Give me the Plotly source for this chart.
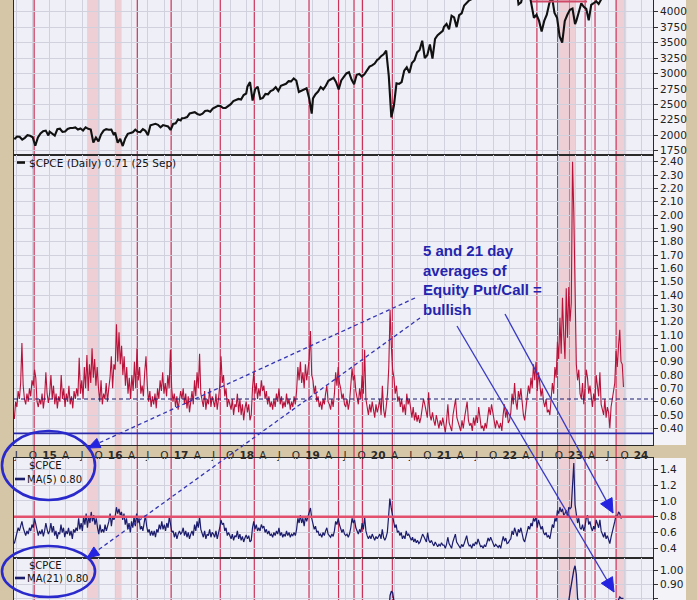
import plotly.graph_objects as go
import pandas as pd

W, H = 697, 600

# ---------------- data ----------------
year_spans = [
    ("2014-06-20", "2014-12-26"),
    ("2015-01-02", "2015-12-25"),
    ("2016-01-01", "2016-12-30"),
    ("2017-01-06", "2017-12-29"),
    ("2018-01-05", "2018-12-28"),
    ("2019-01-04", "2019-12-27"),
    ("2020-01-03", "2020-12-25"),
    ("2021-01-01", "2021-12-31"),
    ("2022-01-07", "2022-12-30"),
    ("2023-01-06", "2023-09-25"),
]

# S&P 500 (approx. bi-weekly)
spx_2014 = [1935, 1978, 1975, 1930, 1958, 2000, 1990, 1968, 1830, 1965, 2030, 2065, 2075, 1995]
spx_2015 = [2058, 2019, 1995, 2097, 2105, 2053, 2061, 2102, 2117, 2116, 2126, 2092, 2110, 2077, 2127, 2104,
            2091, 1880, 1961, 1900, 2014, 2075, 2099, 2089, 2091, 2005]
spx_2016 = [2044, 1880, 1940, 1825, 1948, 2022, 2035, 2047, 2091, 2057, 2052, 2099, 2071, 2000, 2161, 2173,
            2184, 2169, 2128, 2164, 2153, 2141, 2085, 2182, 2192, 2258, 2239]
spx_2017 = [2275, 2280, 2295, 2351, 2367, 2372, 2344, 2329, 2349, 2391, 2399, 2381, 2433, 2454, 2477, 2472,
            2441, 2443, 2477, 2502, 2553, 2575, 2588, 2579, 2651, 2675]
spx_2018 = [2786, 2860, 2560, 2747, 2786, 2588, 2604, 2670, 2663, 2713, 2735, 2779, 2718, 2801, 2819, 2833,
            2875, 2872, 2920, 2885, 2700, 2723, 2736, 2760, 2600, 2350]
spx_2019 = [2596, 2665, 2708, 2780, 2743, 2800, 2880, 2905, 2930, 2860, 2740, 2887, 2942, 3000, 3020, 2900,
            2825, 2979, 2992, 2950, 2986, 3060, 3110, 3130, 3160, 3220]
spx_2020 = [3230, 3280, 3310, 3370, 2960, 2290, 2480, 2840, 2830, 2860, 3044, 3100, 3009, 3170, 3216, 3340,
            3380, 3530, 3250, 3300, 3470, 3240, 3560, 3620, 3650, 3690]
spx_2021 = [3756, 3801, 3714, 3935, 3906, 3750, 3943, 3974, 4100, 4150, 4185, 4204, 4247, 4352, 4395, 4437,
            4509, 4535, 4432, 4391, 4545, 4698, 4594, 4712, 4620, 4680, 4766]
spx_2022 = [4600, 4400, 4450, 4120, 4150, 4300, 4500, 4350, 4130, 3900, 3950, 3850, 3680, 3850, 3950, 4140,
            4250, 3980, 3900, 3600, 3500, 3850, 3950, 4030, 4050, 3800]
spx_2023 = [3850, 3990, 4136, 4079, 4045, 3860, 4109, 4137, 4169, 4124, 4205, 4298, 4348, 4398, 4536, 4478,
            4369, 4515, 4450, 4337]

# $CPCE daily equity put/call ratio (sampled weekly)
cpce_2014 = [0.47, 0.60, 0.56, 0.68, 0.62, 0.74, 1.04, 0.72, 0.62, 0.58, 0.66, 0.60, 0.70, 0.64, 0.76, 0.72,
             0.84, 0.78, 0.60, 0.56, 0.62, 0.58, 0.66, 0.55, 0.63, 0.82, 0.66, 0.59]
cpce_2015 = [0.66, 0.80, 0.62, 0.72, 0.58, 0.66, 0.55, 0.64, 0.60, 0.80, 0.62, 0.70, 0.56, 0.66, 0.60, 0.72,
             0.58, 0.64, 0.55, 0.68, 0.62, 0.70, 0.64, 0.93, 0.66, 0.76, 0.62, 0.86, 0.70, 0.95, 0.68, 0.88,
             0.74, 1.00, 0.78, 0.92, 0.72, 0.86, 0.70, 0.60, 0.76, 0.58, 0.66, 0.62, 0.74, 0.60, 0.70, 0.78,
             0.94, 0.70, 0.88]
cpce_2016 = [0.84, 1.18, 0.90, 1.12, 0.88, 1.02, 0.80, 0.94, 0.72, 0.86, 0.66, 0.78, 0.62, 0.80, 0.68, 0.90,
             0.70, 1.00, 0.76, 0.86, 0.66, 0.72, 0.64, 0.82, 0.94, 0.72, 0.60, 0.68, 0.56, 0.64, 0.58, 0.66,
             0.55, 0.70, 0.62, 0.76, 0.68, 0.82, 0.66, 0.74, 0.64, 0.80, 0.70, 0.99, 0.70, 0.60, 0.66, 0.56,
             0.64, 0.54, 0.60, 0.68]
cpce_2017 = [0.62, 0.70, 0.58, 0.66, 0.55, 0.64, 0.52, 0.60, 0.68, 0.58, 0.76, 0.64, 0.82, 0.70, 0.96, 0.66,
             0.60, 0.56, 0.68, 0.54, 0.62, 0.58, 0.70, 0.56, 0.64, 0.60, 0.56, 0.66, 0.54, 0.62, 0.72, 0.94,
             0.74, 0.80, 0.64, 0.70, 0.56, 0.62, 0.58, 0.54, 0.62, 0.50, 0.58, 0.56, 0.66, 0.52, 0.62, 0.50,
             0.58, 0.46, 0.55, 0.60]
cpce_2018 = [0.52, 0.58, 0.46, 0.50, 0.70, 0.82, 0.66, 0.74, 0.62, 0.70, 0.64, 0.76, 0.68, 0.72, 0.62, 0.68,
             0.58, 0.64, 0.56, 0.60, 0.54, 0.62, 0.56, 0.66, 0.60, 0.70, 0.58, 0.64, 0.55, 0.60, 0.56, 0.66,
             0.58, 0.62, 0.54, 0.60, 0.56, 0.64, 0.58, 0.68, 0.86, 0.76, 0.90, 0.74, 0.82, 0.70, 0.88, 0.76,
             0.84, 0.92, 1.13, 0.80]
cpce_2019 = [0.76, 0.66, 0.72, 0.60, 0.64, 0.56, 0.60, 0.54, 0.62, 0.58, 0.66, 0.72, 0.60, 0.58, 0.54, 0.62,
             0.56, 0.66, 0.82, 0.72, 0.86, 0.74, 0.70, 0.62, 0.66, 0.58, 0.56, 0.62, 0.54, 0.60, 0.72, 0.85,
             0.76, 0.80, 0.68, 0.64, 0.58, 0.70, 0.62, 0.80, 0.66, 0.99, 0.62, 0.56, 0.50, 0.58, 0.52, 0.60,
             0.54, 0.48, 0.58, 0.52]
cpce_2020 = [0.56, 0.62, 0.50, 0.72, 0.54, 0.48, 0.56, 0.66, 0.86, 1.29, 1.02, 0.84, 0.78, 0.66, 0.72, 0.60,
             0.64, 0.56, 0.62, 0.52, 0.58, 0.50, 0.66, 0.58, 0.62, 0.54, 0.48, 0.56, 0.46, 0.52, 0.45, 0.50,
             0.44, 0.48, 0.56, 0.62, 0.58, 0.52, 0.48, 0.67, 0.50, 0.46, 0.52, 0.46, 0.42, 0.50, 0.44, 0.40,
             0.46, 0.42, 0.48]
cpce_2021 = [0.42, 0.37, 0.46, 0.58, 0.44, 0.40, 0.38, 0.50, 0.56, 0.62, 0.48, 0.44, 0.42, 0.38, 0.46, 0.40,
             0.48, 0.56, 0.60, 0.46, 0.42, 0.44, 0.38, 0.48, 0.42, 0.50, 0.44, 0.56, 0.46, 0.40, 0.42, 0.38,
             0.44, 0.40, 0.48, 0.56, 0.50, 0.58, 0.52, 0.44, 0.40, 0.46, 0.42, 0.40, 0.44, 0.38, 0.50, 0.58,
             0.48, 0.54, 0.44, 0.46]
cpce_2022 = [0.52, 0.66, 0.58, 0.74, 0.60, 0.54, 0.68, 0.62, 0.70, 0.56, 0.50, 0.46, 0.56, 0.62, 0.72, 0.66,
             0.78, 0.70, 0.88, 0.76, 0.90, 0.68, 0.82, 0.74, 0.64, 0.70, 0.60, 0.56, 0.62, 0.52, 0.54, 0.50,
             0.62, 0.74, 0.66, 0.86, 0.78, 1.05, 0.92, 1.23, 0.96, 1.38, 1.10, 0.92, 1.45, 1.08, 1.46, 1.20,
             1.34, 2.40, 2.02, 1.30]
cpce_2023 = [0.88, 0.76, 0.84, 0.66, 0.62, 0.74, 0.58, 0.70, 0.84, 0.78, 0.66, 0.72, 0.62, 0.56, 0.66, 0.60,
             0.80, 0.70, 0.64, 0.82, 0.58, 0.54, 0.50, 0.62, 0.48, 0.56, 0.52, 0.40, 0.56, 0.62, 0.70, 0.74,
             0.98, 0.86, 1.02, 1.14, 0.90, 0.88, 0.71]

# MA(5) of $CPCE (sampled weekly)
ma5_2014 = [0.46, 0.54, 0.60, 0.66, 0.62, 0.68, 0.74, 0.66, 0.60, 0.56, 0.62, 0.58, 0.66, 0.62, 0.70, 0.66,
            0.78, 0.70, 0.60, 0.56, 0.62, 0.58, 0.64, 0.55, 0.62, 0.72, 0.64, 0.58]
ma5_2015 = [0.62, 0.72, 0.60, 0.68, 0.56, 0.62, 0.52, 0.60, 0.58, 0.70, 0.60, 0.66, 0.54, 0.62, 0.58, 0.66,
            0.56, 0.62, 0.52, 0.64, 0.60, 0.66, 0.62, 0.78, 0.64, 0.72, 0.62, 0.80, 0.70, 0.84, 0.66, 0.80,
            0.72, 0.86, 0.74, 0.82, 0.70, 0.78, 0.66, 0.58, 0.70, 0.60, 0.64, 0.60, 0.70, 0.62, 0.68, 0.74,
            0.84, 0.68, 0.80, 0.76]
ma5_2016 = [0.80, 0.92, 0.84, 0.90, 0.82, 0.86, 0.76, 0.84, 0.70, 0.78, 0.64, 0.72, 0.60, 0.74, 0.66, 0.80,
            0.68, 0.84, 0.72, 0.78, 0.64, 0.68, 0.62, 0.74, 0.82, 0.68, 0.60, 0.64, 0.56, 0.62, 0.56, 0.62,
            0.54, 0.64, 0.60, 0.70, 0.64, 0.74, 0.64, 0.70, 0.62, 0.72, 0.66, 0.80, 0.66, 0.60, 0.62, 0.54,
            0.60, 0.52, 0.58, 0.62, 0.58]
ma5_2017 = [0.60, 0.66, 0.56, 0.62, 0.54, 0.60, 0.52, 0.58, 0.62, 0.56, 0.70, 0.62, 0.74, 0.66, 0.80, 0.64,
            0.58, 0.54, 0.62, 0.52, 0.58, 0.56, 0.64, 0.54, 0.60, 0.58, 0.54, 0.62, 0.52, 0.58, 0.66, 0.76,
            0.70, 0.72, 0.62, 0.66, 0.56, 0.60, 0.56, 0.52, 0.58, 0.50, 0.56, 0.54, 0.62, 0.52, 0.58, 0.50,
            0.55, 0.48, 0.53, 0.57]
ma5_2018 = [0.52, 0.56, 0.48, 0.50, 0.66, 0.74, 0.64, 0.70, 0.62, 0.66, 0.62, 0.70, 0.66, 0.68, 0.60, 0.64,
            0.58, 0.62, 0.56, 0.58, 0.54, 0.60, 0.56, 0.62, 0.58, 0.66, 0.56, 0.60, 0.54, 0.58, 0.55, 0.62,
            0.56, 0.60, 0.54, 0.58, 0.56, 0.60, 0.56, 0.64, 0.78, 0.72, 0.82, 0.72, 0.78, 0.68, 0.80, 0.74,
            0.80, 0.86, 0.91, 0.78]
ma5_2019 = [0.72, 0.64, 0.68, 0.60, 0.62, 0.56, 0.58, 0.54, 0.60, 0.56, 0.62, 0.66, 0.58, 0.56, 0.54, 0.58,
            0.55, 0.62, 0.74, 0.70, 0.78, 0.70, 0.66, 0.60, 0.64, 0.58, 0.56, 0.58, 0.54, 0.58, 0.66, 0.78,
            0.72, 0.76, 0.66, 0.62, 0.58, 0.64, 0.60, 0.72, 0.64, 0.80, 0.62, 0.56, 0.52, 0.56, 0.52, 0.58,
            0.54, 0.50, 0.55, 0.52]
ma5_2020 = [0.55, 0.58, 0.52, 0.64, 0.54, 0.50, 0.54, 0.60, 0.80, 1.03, 0.92, 0.80, 0.74, 0.66, 0.70, 0.60,
            0.62, 0.56, 0.60, 0.52, 0.56, 0.52, 0.62, 0.56, 0.58, 0.54, 0.50, 0.54, 0.48, 0.52, 0.47, 0.50,
            0.46, 0.48, 0.52, 0.58, 0.55, 0.52, 0.48, 0.60, 0.50, 0.47, 0.50, 0.46, 0.43, 0.48, 0.45, 0.42,
            0.45, 0.43, 0.47, 0.44]
ma5_2021 = [0.44, 0.40, 0.45, 0.54, 0.46, 0.42, 0.40, 0.48, 0.52, 0.58, 0.48, 0.45, 0.43, 0.40, 0.45, 0.42,
            0.46, 0.52, 0.56, 0.47, 0.43, 0.44, 0.40, 0.46, 0.43, 0.48, 0.45, 0.52, 0.46, 0.42, 0.43, 0.40,
            0.44, 0.42, 0.47, 0.53, 0.49, 0.54, 0.50, 0.45, 0.42, 0.45, 0.43, 0.41, 0.44, 0.40, 0.48, 0.55,
            0.49, 0.53, 0.46, 0.47, 0.50]
ma5_2022 = [0.52, 0.62, 0.57, 0.66, 0.60, 0.55, 0.64, 0.60, 0.66, 0.56, 0.51, 0.48, 0.55, 0.60, 0.68, 0.64,
            0.72, 0.68, 0.78, 0.74, 0.80, 0.66, 0.76, 0.70, 0.64, 0.68, 0.60, 0.57, 0.60, 0.54, 0.56, 0.52,
            0.60, 0.70, 0.66, 0.78, 0.74, 0.88, 0.84, 0.92, 0.86, 0.90, 0.82, 0.84, 0.88, 0.80, 0.92, 0.90,
            0.92, 1.25, 1.48, 0.95]
ma5_2023 = [0.84, 0.72, 0.78, 0.66, 0.64, 0.70, 0.62, 0.68, 0.78, 0.82, 0.70, 0.74, 0.66, 0.62, 0.68, 0.64,
            0.76, 0.70, 0.66, 0.76, 0.62, 0.58, 0.54, 0.60, 0.52, 0.56, 0.50, 0.46, 0.54, 0.60, 0.68, 0.74,
            0.82, 0.80, 0.86, 0.84, 0.78, 0.80, 0.80]

# MA(21) of $CPCE (monthly, weekly where it enters the visible window)
ma21_2014 = [0.55, 0.62, 0.66, 0.64, 0.68, 0.62, 0.64]
ma21_2015 = [0.66, 0.62, 0.64, 0.62, 0.60, 0.64, 0.70, 0.76, 0.76, 0.66, 0.64, 0.74]
ma21_2016 = [0.78, 0.77, 0.72, 0.70, 0.74, 0.70, 0.62, 0.60, 0.66, 0.68, 0.70, 0.58]
ma21_2017 = [0.61, 0.58, 0.64, 0.68, 0.60, 0.59, 0.58, 0.68, 0.62, 0.56, 0.57, 0.53]
ma21_2018 = [0.52, 0.68, 0.66, 0.65, 0.59, 0.60, 0.59, 0.58, 0.58, 0.74, 0.76, 0.78]
ma21_2019 = [0.68, 0.59, 0.61, 0.57, 0.70, 0.64, 0.58, 0.70, 0.63, 0.70, 0.55, 0.53]
ma21_2020 = [0.56, 0.57, 0.57, 0.58, 0.57, 0.56, 0.55, 0.58, 0.70, 0.82, 0.85, 0.84, 0.78, 0.72, 0.68, 0.65,
             0.63, 0.61, 0.60, 0.58, 0.57, 0.57, 0.58, 0.58, 0.57, 0.55, 0.53, 0.52, 0.51, 0.50, 0.49, 0.48,
             0.48, 0.49, 0.52, 0.55, 0.56, 0.55, 0.53, 0.54, 0.53, 0.52, 0.51, 0.49, 0.47, 0.46, 0.46, 0.45,
             0.44, 0.44, 0.45]
ma21_2021 = [0.46, 0.44, 0.50, 0.44, 0.48, 0.44, 0.47, 0.42, 0.50, 0.46, 0.44, 0.50]
ma21_2022 = [0.54, 0.56, 0.58, 0.60, 0.61, 0.60, 0.59, 0.60, 0.59, 0.57, 0.55, 0.53, 0.54, 0.57, 0.60, 0.63,
             0.66, 0.69, 0.72, 0.74, 0.76, 0.76, 0.75, 0.73, 0.71, 0.68, 0.66, 0.63, 0.60, 0.58, 0.57, 0.56,
             0.58, 0.61, 0.64, 0.68, 0.71, 0.74, 0.76, 0.77, 0.78, 0.77, 0.76, 0.75, 0.76, 0.77, 0.78, 0.84,
             0.90, 0.95, 1.00, 1.03]
ma21_2023 = [0.97, 0.80, 0.74, 0.72, 0.70, 0.69, 0.68, 0.70, 0.72, 0.74, 0.73, 0.71, 0.69, 0.67, 0.66, 0.67,
             0.68, 0.69, 0.67, 0.65, 0.62, 0.60, 0.58, 0.57, 0.55, 0.54, 0.53, 0.55, 0.58, 0.62, 0.66, 0.70,
             0.74, 0.77, 0.79, 0.81, 0.80, 0.80, 0.80]

# tick labels
spx_ticks = [1750, 2000, 2250, 2500, 2750, 3000, 3250, 3500, 3750, 4000]
cpce_ticks = [0.40, 0.50, 0.60, 0.70, 0.80, 0.90, 1.00, 1.10, 1.20, 1.30, 1.40, 1.50, 1.60, 1.70, 1.80,
              1.90, 2.00, 2.10, 2.20, 2.30, 2.40]
ma5_ticks = [0.4, 0.6, 0.8, 1.0, 1.2, 1.4]
ma21_ticks = [0.80, 0.90, 1.00]
quarter_ticks = ["2014-07-01", "2014-10-01",
                 "2015-01-01", "2015-04-01", "2015-07-01", "2015-10-01",
                 "2016-01-01", "2016-04-01", "2016-07-01", "2016-10-01",
                 "2017-01-01", "2017-04-01", "2017-07-01", "2017-10-01",
                 "2018-01-01", "2018-04-01", "2018-07-01", "2018-10-01",
                 "2019-01-01", "2019-04-01", "2019-07-01", "2019-10-01",
                 "2020-01-01", "2020-04-01", "2020-07-01", "2020-10-01",
                 "2021-01-01", "2021-04-01", "2021-07-01", "2021-10-01",
                 "2022-01-01", "2022-04-01", "2022-07-01", "2022-10-01",
                 "2023-01-01", "2023-04-01", "2023-07-01", "2023-10-01",
                 "2024-01-01"]
quarter_labels = ["J", "O",
                  "<b>15</b>", "A", "J", "O",
                  "<b>16</b>", "A", "J", "O",
                  "<b>17</b>", "A", "J", "O",
                  "<b>18</b>", "A", "J", "O",
                  "<b>19</b>", "A", "J", "O",
                  "<b>20</b>", "A", "J", "O",
                  "<b>21</b>", "A", "J", "O",
                  "<b>22</b>", "A", "J", "O",
                  "<b>23</b>", "A", "J", "O",
                  "<b>24</b>"]

# marked dates and levels
red_line_dates = ["2014-10-08", "2016-05-03", "2016-11-07", "2017-08-07", "2018-02-12", "2018-12-13",
                  "2019-05-26", "2019-08-20", "2019-10-06", "2020-03-20", "2022-06-01", "2022-09-24",
                  "2023-02-24", "2023-04-20", "2023-08-15"]
purple_line_date = "2022-11-29"
shade_ranges = [("2015-07-29", "2015-10-08"), ("2015-12-30", "2016-02-06"),
                ("2022-09-24", "2022-12-31"), ("2023-08-15", "2023-10-10")]
cpce_dashed_level = 0.62
cpce_floor_level = 0.362
ma5_level = 0.80


def build(segments):
    xs, ys = [], []
    for (start, end), vals in zip(year_spans, segments):
        xs += list(pd.date_range(start, end, periods=len(vals)))
        ys += list(vals)
    return xs, ys


spx_x, spx_y = build([spx_2014, spx_2015, spx_2016, spx_2017, spx_2018, spx_2019, spx_2020, spx_2021,
                      spx_2022, spx_2023])
cpce_x, cpce_y = build([cpce_2014, cpce_2015, cpce_2016, cpce_2017, cpce_2018, cpce_2019, cpce_2020,
                        cpce_2021, cpce_2022, cpce_2023])
ma5_x, ma5_y = build([ma5_2014, ma5_2015, ma5_2016, ma5_2017, ma5_2018, ma5_2019, ma5_2020, ma5_2021,
                      ma5_2022, ma5_2023])
ma21_x, ma21_y = build([ma21_2014, ma21_2015, ma21_2016, ma21_2017, ma21_2018, ma21_2019, ma21_2020,
                        ma21_2021, ma21_2022, ma21_2023])

# ---------------- styling ----------------
TAN = "#d5c6a7"
BG = "#eeeff7"
GRID = "#d0d1dd"
FONT = "DejaVu Sans"
BLUE = "#2a2acc"


def px(x):
    return x / W


def py(y):
    return 1 - y / H


fig = go.Figure()
fig.add_trace(go.Scatter(x=spx_x, y=spx_y, mode="lines", line=dict(color="#111111", width=2.1),
                         xaxis="x", yaxis="y", hoverinfo="skip"))
fig.add_trace(go.Scatter(x=cpce_x, y=cpce_y, mode="lines", line=dict(color="#b8123a", width=1.1),
                         xaxis="x2", yaxis="y2", hoverinfo="skip"))
fig.add_trace(go.Scatter(x=ma5_x, y=ma5_y, mode="lines", line=dict(color="#1c1c6c", width=1.2),
                         xaxis="x3", yaxis="y3", hoverinfo="skip"))
fig.add_trace(go.Scatter(x=ma21_x, y=ma21_y, mode="lines", line=dict(color="#1c1c6c", width=1.3),
                         xaxis="x4", yaxis="y4", hoverinfo="skip"))

XR = ["2014-06-18", "2024-03-07"]
XD = [px(14), px(653)]
tickfont = dict(family=FONT, size=10.5, color="#222222")


def xax(anchor, labels=False, mirror=True):
    d = dict(type="date", range=XR, domain=XD, anchor=anchor, tickvals=quarter_ticks,
             showgrid=True, gridcolor=GRID, gridwidth=1, zeroline=False, ticks="",
             showline=True, linecolor="#2a2a2a", linewidth=1, mirror=mirror,
             showticklabels=labels, automargin=False, fixedrange=True)
    if labels:
        d.update(ticktext=quarter_labels, tickfont=dict(family=FONT, size=10.5, color="#2a2a2a"))
    return d


def yax(anchor, dom, rng, vals, fmt):
    return dict(domain=dom, range=rng, anchor=anchor, side="right", tickvals=vals, tickformat=fmt,
                showgrid=True, gridcolor=GRID, gridwidth=1, zeroline=False,
                ticks="outside", ticklen=4, tickcolor="#333333", tickwidth=1, tickfont=tickfont,
                showline=True, linecolor="#2a2a2a", linewidth=1, mirror=True,
                automargin=False, fixedrange=True)


shapes = []
# light column behind right-hand scales
for y0, y1 in [(0, 445), (458, 600)]:
    shapes.append(dict(type="rect", xref="paper", yref="paper", x0=px(653), x1=px(686),
                       y0=py(y1), y1=py(y0), fillcolor="#f3f3f8", line=dict(width=0), layer="below"))
# shaded periods
for a, b in shade_ranges:
    shapes.append(dict(type="rect", xref="x", yref="paper", x0=a, x1=b, y0=0, y1=1,
                       fillcolor="rgba(238,160,165,0.40)", line=dict(width=0), layer="below"))
# red verticals
for d in red_line_dates:
    shapes.append(dict(type="line", xref="x", yref="paper", x0=d, x1=d, y0=0, y1=1,
                       line=dict(color="#cc3358", width=1.2), layer="below"))
shapes.append(dict(type="line", xref="x", yref="paper", x0=purple_line_date, x1=purple_line_date,
                   y0=0, y1=1, line=dict(color="#a084cc", width=1), layer="below"))
# horizontal levels
shapes.append(dict(type="line", xref="x2 domain", yref="y2", x0=0, x1=1, y0=cpce_dashed_level,
                   y1=cpce_dashed_level, line=dict(color="#1a1a70", width=1.2, dash="4px,3px")))
shapes.append(dict(type="line", xref="x2 domain", yref="y2", x0=0, x1=1, y0=cpce_floor_level,
                   y1=cpce_floor_level, line=dict(color="#2a2aa8", width=1.6)))
shapes.append(dict(type="line", xref="x3 domain", yref="y3", x0=0, x1=1, y0=ma5_level,
                   y1=ma5_level, line=dict(color="#e2506e", width=2.6)))
# red segment at top of price panel
shapes.append(dict(type="line", xref="paper", yref="paper", x0=px(532), x1=px(587), y0=py(1.5),
                   y1=py(1.5), line=dict(color="#d04a68", width=2)))

# legend dashes
for (x0, x1, y, c) in [(17, 25, 162.5, "#111111"), (15, 25, 479, "#1c1c6c"), (15, 25, 578, "#1c1c6c")]:
    shapes.append(dict(type="line", xref="paper", yref="paper", x0=px(x0), x1=px(x1), y0=py(y), y1=py(y),
                       line=dict(color=c, width=2.6)))

# ellipses
for (x0, x1, y0, y1) in [(2, 95, 431, 500), (2, 95, 546, 597)]:
    shapes.append(dict(type="circle", xref="paper", yref="paper", x0=px(x0), x1=px(x1),
                       y0=py(y1), y1=py(y0), line=dict(color=BLUE, width=2.6)))


def arrow(x0, y0, x1, y1, dash, color, head_len, head_w, head_color):
    shapes.append(dict(type="line", xref="paper", yref="paper", x0=px(x0), y0=py(y0), x1=px(x1), y1=py(y1),
                       line=dict(color=color, width=1.3, dash=dash)))
    dx, dy = x0 - x1, y0 - y1
    n = (dx * dx + dy * dy) ** 0.5
    ux, uy = dx / n, dy / n
    bx, by = x1 + ux * head_len, y1 + uy * head_len
    nx, ny = -uy, ux
    p1 = (bx + nx * head_w, by + ny * head_w)
    p2 = (bx - nx * head_w, by - ny * head_w)
    path = "M {} {} L {} {} L {} {} Z".format(px(x1), py(y1), px(p1[0]), py(p1[1]), px(p2[0]), py(p2[1]))
    shapes.append(dict(type="path", xref="paper", yref="paper", path=path, fillcolor=head_color,
                       line=dict(color=head_color, width=1)))


arrow(415, 298, 88, 448, "4px,3px", "#3434b4", 12, 5, "#2424e0")
arrow(420, 318, 87, 558, "4px,3px", "#3434b4", 12, 5, "#2424e0")
arrow(505, 314, 613, 513, "solid", "#3838c4", 14, 6.5, "#2424e0")
arrow(457, 326, 614, 592, "solid", "#3838c4", 14, 6.5, "#2424e0")

small = dict(family=FONT, size=10, color="#111111")
annotations = [
    dict(xref="paper", yref="paper", x=px(422), y=py(280), xanchor="left", yanchor="middle",
         text="<b>5 and 21 day<br>averages of<br>Equity Put/Call =<br>bullish</b>", align="left",
         showarrow=False, font=dict(family="Liberation Sans", size=15, color="#2424ae"), borderpad=0),
    dict(xref="paper", yref="paper", x=px(28), y=py(163), xanchor="left", yanchor="middle",
         text="$CPCE (Daily) 0.71 (25 Sep)", showarrow=False, borderpad=0,
         font=dict(family=FONT, size=10.5, color="#111111")),
    dict(xref="paper", yref="paper", x=px(28), y=py(466), xanchor="left", yanchor="middle",
         text="$CPCE", showarrow=False, font=small, borderpad=0),
    dict(xref="paper", yref="paper", x=px(26), y=py(479), xanchor="left", yanchor="middle",
         text="MA(5) 0.80", showarrow=False, font=small, borderpad=0),
    dict(xref="paper", yref="paper", x=px(28), y=py(565), xanchor="left", yanchor="middle",
         text="$CPCE", showarrow=False, font=small, borderpad=0),
    dict(xref="paper", yref="paper", x=px(26), y=py(578), xanchor="left", yanchor="middle",
         text="MA(21) 0.80", showarrow=False, font=small, borderpad=0),
]

fig.update_layout(
    width=W, height=H, margin=dict(l=0, r=0, t=0, b=0, pad=0),
    paper_bgcolor=TAN, plot_bgcolor=BG, showlegend=False,
    xaxis=xax("y", mirror=False),
    xaxis2=xax("y2", labels=True),
    xaxis3=xax("y3"),
    xaxis4=xax("y4"),
    yaxis=yax("x", [py(155), 1.0], [1680, 4189], spx_ticks, "d"),
    yaxis2=yax("x2", [py(445), py(155)], [0.275, 2.45], cpce_ticks, ".2f"),
    yaxis3=yax("x3", [py(558), py(458)], [0.277, 1.543], ma5_ticks, ".1f"),
    yaxis4=yax("x4", [0.0, py(558)], [0.788, 1.085], ma21_ticks, ".2f"),
    shapes=shapes, annotations=annotations,
)

fig.write_html("out.html", include_plotlyjs=True, full_html=True, config={"displayModeBar": False},
               post_script="document.body.style.margin='0px';document.body.style.overflow='hidden';")
